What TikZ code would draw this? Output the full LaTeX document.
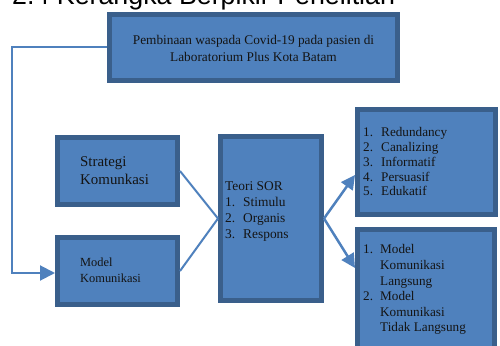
\documentclass[tikz,border=0pt]{standalone}
\usepackage{fontspec}
\setmainfont{Liberation Serif}
\newfontfamily\titlefont{Liberation Sans}
\usetikzlibrary{arrows.meta,calc}
\definecolor{boxfill}{HTML}{4F81BD}
\definecolor{boxline}{HTML}{3A5F8B}
\definecolor{conn}{HTML}{4F81BD}
\definecolor{txtcol}{HTML}{141414}
\begin{document}
\begin{tikzpicture}[x=1pt,y=1pt,
  box/.style={draw=boxline, fill=boxfill, line width=5pt, inner sep=0pt},
  txt/.style={inner sep=0pt, text=txtcol},
  link/.style={draw=conn, line width=2pt},
  arr/.style={draw=conn, fill=conn, line width=2.5pt, -{Triangle[length=14pt,width=14pt]}}]
\useasboundingbox (0,0) rectangle (500,345);
\clip (0,0) rectangle (500,345);
\fill[white] (0,0) rectangle (500,345);
% title (cut off at top)
\node[txt, anchor=base west, font=\titlefont\fontsize{26.8}{30}\selectfont, text=black] (title) at (12,340) {2.4 Kerangka Berpikir Penelitian};
% boxes
\node[box, minimum width=288pt, minimum height=66pt] (top) at (253.5,297.5) {};
\node[box, minimum width=120pt, minimum height=67pt] (strat) at (117.5,174) {};
\node[box, minimum width=120pt, minimum height=67pt] (model) at (117.5,74) {};
\node[box, minimum width=101pt, minimum height=164pt] (teori) at (271,126.5) {};
\node[box, minimum width=138pt, minimum height=105pt] (tr) at (426.5,183) {};
\node[box, minimum width=137pt, minimum height=128pt] (br) at (426,51.5) {};
% texts
\node[txt, anchor=base, font=\fontsize{13.3}{17}\selectfont] (toptext) at (253.5,300)
  {\begin{tabular}[t]{@{}c@{}}Pembinaan waspada Covid-19 pada pasien di\\Laboratorium Plus Kota Batam\end{tabular}};
\node[txt, anchor=base west, font=\fontsize{14.9}{18}\selectfont] (strattext) at (80,178)
  {\begin{tabular}[t]{@{}l@{}}Strategi\\Komunkasi\end{tabular}};
\node[txt, anchor=base west, font=\fontsize{12.4}{16}\selectfont] (modeltext) at (80,78)
  {\begin{tabular}[t]{@{}l@{}}Model\\Komunikasi\end{tabular}};
\node[txt, anchor=base west, font=\fontsize{13.4}{15.7}\selectfont] (teoritext) at (225,154)
  {\begin{tabular}[t]{@{}p{18pt}@{}l@{}}\multicolumn{2}{@{}l@{}}{Teori SOR}\\1. & Stimulu\\2. & Organis\\3. & Respons\end{tabular}};
\node[txt, anchor=base west, font=\fontsize{13.2}{14.7}\selectfont] (trtext) at (363,208)
  {\begin{tabular}[t]{@{}p{18pt}@{}l@{}}1. & Redundancy\\2. & Canalizing\\3. & Informatif\\4. & Persuasif\\5. & Edukatif\end{tabular}};
\node[txt, anchor=base west, font=\fontsize{13.2}{15.6}\selectfont] (brtext) at (363,91)
  {\begin{tabular}[t]{@{}p{17pt}@{}l@{}}1. & Model\\ & Komunikasi\\ & Langsung\\2. & Model\\ & Komunikasi\\ & Tidak Langsung\end{tabular}};
% connectors
\draw[link, -{Triangle[length=15pt,width=15pt]}] (top.west) -- ++(-95,0) coordinate (corner) |- ([yshift=-2pt]model.west);
\draw[link] (strat.east) -- (teori.west);
\draw[link] (model.east) -- (teori.west);
\draw[arr] (teori.east) -- ([yshift=-13pt]tr.west);
\draw[arr] (teori.east) -- ([yshift=25.5pt]br.west);
\end{tikzpicture}
\end{document}
